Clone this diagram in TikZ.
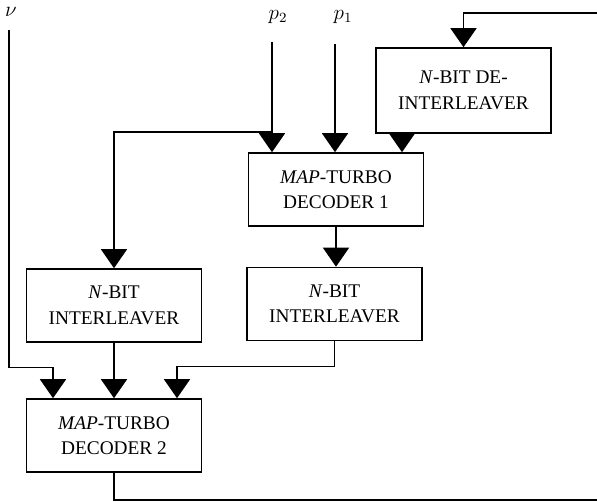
\documentclass[tikz,border=0pt]{standalone}
\usepackage{fontspec}
\setmainfont{Liberation Serif}
\usepackage{tikz}
\usetikzlibrary{arrows.meta,calc}

\begin{document}
\begin{tikzpicture}[
  x=0.02cm, y=-0.02cm, >={Triangle[width=0.52cm,length=0.38cm]},
  font=\fontsize{11}{14.5}\selectfont,
  box/.style={draw,line width=0.9pt,minimum width=3.5cm,minimum height=1.46cm,align=center,inner sep=0pt},
  lab/.style={font=\fontsize{12}{14}\selectfont},
  arr/.style={->,line width=0.8pt},
  wire/.style={line width=0.8pt},
]
\useasboundingbox (0,0) rectangle (597,502);

\node[box,minimum height=1.7cm] (deint) at (463.5,90.5) {\textit{N}-BIT DE-\\INTERLEAVER};
\node[box] (dec1) at (336,189.5) {\textit{MAP}-TURBO\\DECODER 1};
\node[box] (intl) at (114,305.5) {\textit{N}-BIT\\INTERLEAVER};
\node[box] (intr) at (334.5,304) {\textit{N}-BIT\\INTERLEAVER};
\node[box] (dec2) at (114,435.5) {\textit{MAP}-TURBO\\DECODER 2};

% inputs
\node[lab] (vlab)  at (11,12)  {$\nu$};
\node[lab] (p2lab) at (278,17) {$p_2$};
\node[lab] (p1lab) at (343,17) {$p_1$};
\coordinate (vtop)  at (9,30);
\coordinate (p2top) at (272,42);
\coordinate (p1top) at (335,44);
\coordinate (split) at (272,132);
\coordinate (d1in)  at ($(dec1.north)+(66,0)$);
\coordinate (fbtop) at (597,13);
\coordinate (fbend) at (597,500);

\draw[arr] (p2top) -- (p2top |- dec1.north);
\draw[arr] (split) -| (intl.north);
\draw[arr] (p1top) -- (p1top |- dec1.north);
\draw[arr] (deint.south -| d1in) -- (d1in);
\draw[arr] (fbtop) -| (deint.north);
\draw[arr] (dec1.south) -- (dec1.south |- intr.north);

\draw[arr] (vtop) |- ($(dec2.north)+(-61,-31)$) -- ($(dec2.north)+(-61,0)$);
\draw[arr] (intl) -- (dec2);
\draw[arr] (intr.south) |- ($(dec2.north)+(63,-32)$) -- ($(dec2.north)+(63,0)$);
\draw[wire] (dec2.south) |- (fbend);
\end{tikzpicture}
\end{document}
